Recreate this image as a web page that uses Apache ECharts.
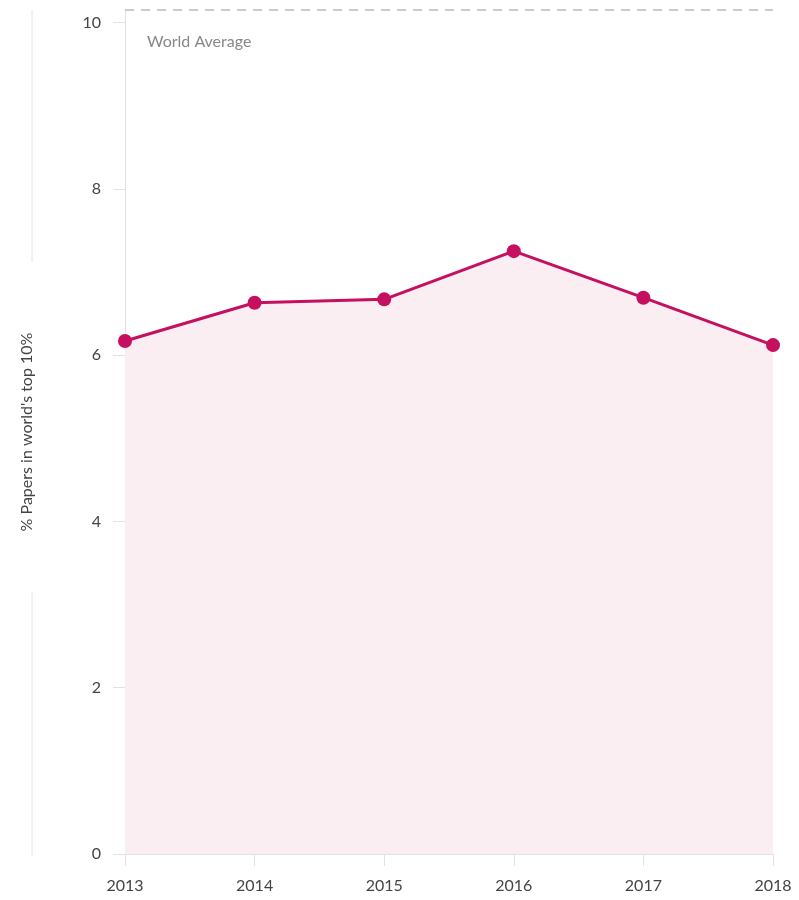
<!DOCTYPE html>
<html>
<head>
<meta charset="utf-8">
<script src="https://cdn.jsdelivr.net/npm/echarts@6/dist/echarts.min.js"></script>
<style>
  html, body { margin: 0; padding: 0; background: #fff; }
  #chart { width: 799px; height: 900px; }
</style>
</head>
<body>
<div id="chart"></div>
<script>
// data
var years = ['2013', '2014', '2015', '2016', '2017', '2018'];
var brazil = [6.17, 6.63, 6.67, 7.25, 6.69, 6.12];
var worldAverage = 10.15;
var yTicks = [0, 2, 4, 6, 8, 10];

var lineColor = '#c4105e';
var fontName = 'Lato';

var myChart = echarts.init(document.getElementById('chart'));
var option = {
  animation: false,
  textStyle: { fontFamily: fontName },
  grid: { left: 125, right: 26, top: 10, bottom: 46 },
  xAxis: {
    type: 'category',
    data: years,
    boundaryGap: false,
    axisLine: { lineStyle: { color: '#e2e2e2', width: 1 } },
    axisTick: { show: true, length: 12, alignWithLabel: true, lineStyle: { color: '#e2e2e2' } },
    axisLabel: { color: '#444', fontSize: 16, margin: 24, fontFamily: fontName }
  },
  yAxis: {
    type: 'value',
    min: 0,
    max: worldAverage,
    interval: 2,
    name: "% Papers in world's top 10%",
    nameLocation: 'middle',
    nameGap: 90,
    nameRotate: 90,
    nameTextStyle: { color: '#444', fontSize: 16, fontFamily: fontName },
    axisLine: { show: true, lineStyle: { color: '#e2e2e2', width: 1 } },
    axisTick: { show: true, length: 12, customValues: yTicks, lineStyle: { color: '#e2e2e2' } },
    axisLabel: { color: '#444', fontSize: 16, margin: 24, customValues: yTicks, fontFamily: fontName },
    splitLine: { show: false }
  },
  series: [{
    name: 'Brazil',
    type: 'line',
    data: brazil,
    symbol: 'circle',
    symbolSize: 14,
    lineStyle: { color: lineColor, width: 3 },
    itemStyle: { color: lineColor },
    areaStyle: { color: '#fbeef3', opacity: 1 },
    markLine: {
      silent: true,
      symbol: 'none',
      lineStyle: { color: '#bbbbbb', type: [9, 7], width: 1.5 },
      label: {
        show: true,
        position: 'insideStartBottom',
        formatter: 'World Average',
        color: '#888',
        fontSize: 16,
        fontFamily: fontName,
        distance: [22, 24]
      },
      data: [{ yAxis: worldAverage }]
    }
  }],
  graphic: [
    { type: 'line', shape: { x1: 32, y1: 10, x2: 32, y2: 262 }, style: { stroke: '#e6e6e6', lineWidth: 1 } },
    { type: 'line', shape: { x1: 32, y1: 592, x2: 32, y2: 856 }, style: { stroke: '#e6e6e6', lineWidth: 1 } },
    { type: 'text', left: 147, top: 817, style: { text: 'Brazil', fill: '#c2479a', fontSize: 16, fontFamily: fontName } }
  ]
};
myChart.setOption(option);
</script>
</body>
</html>
